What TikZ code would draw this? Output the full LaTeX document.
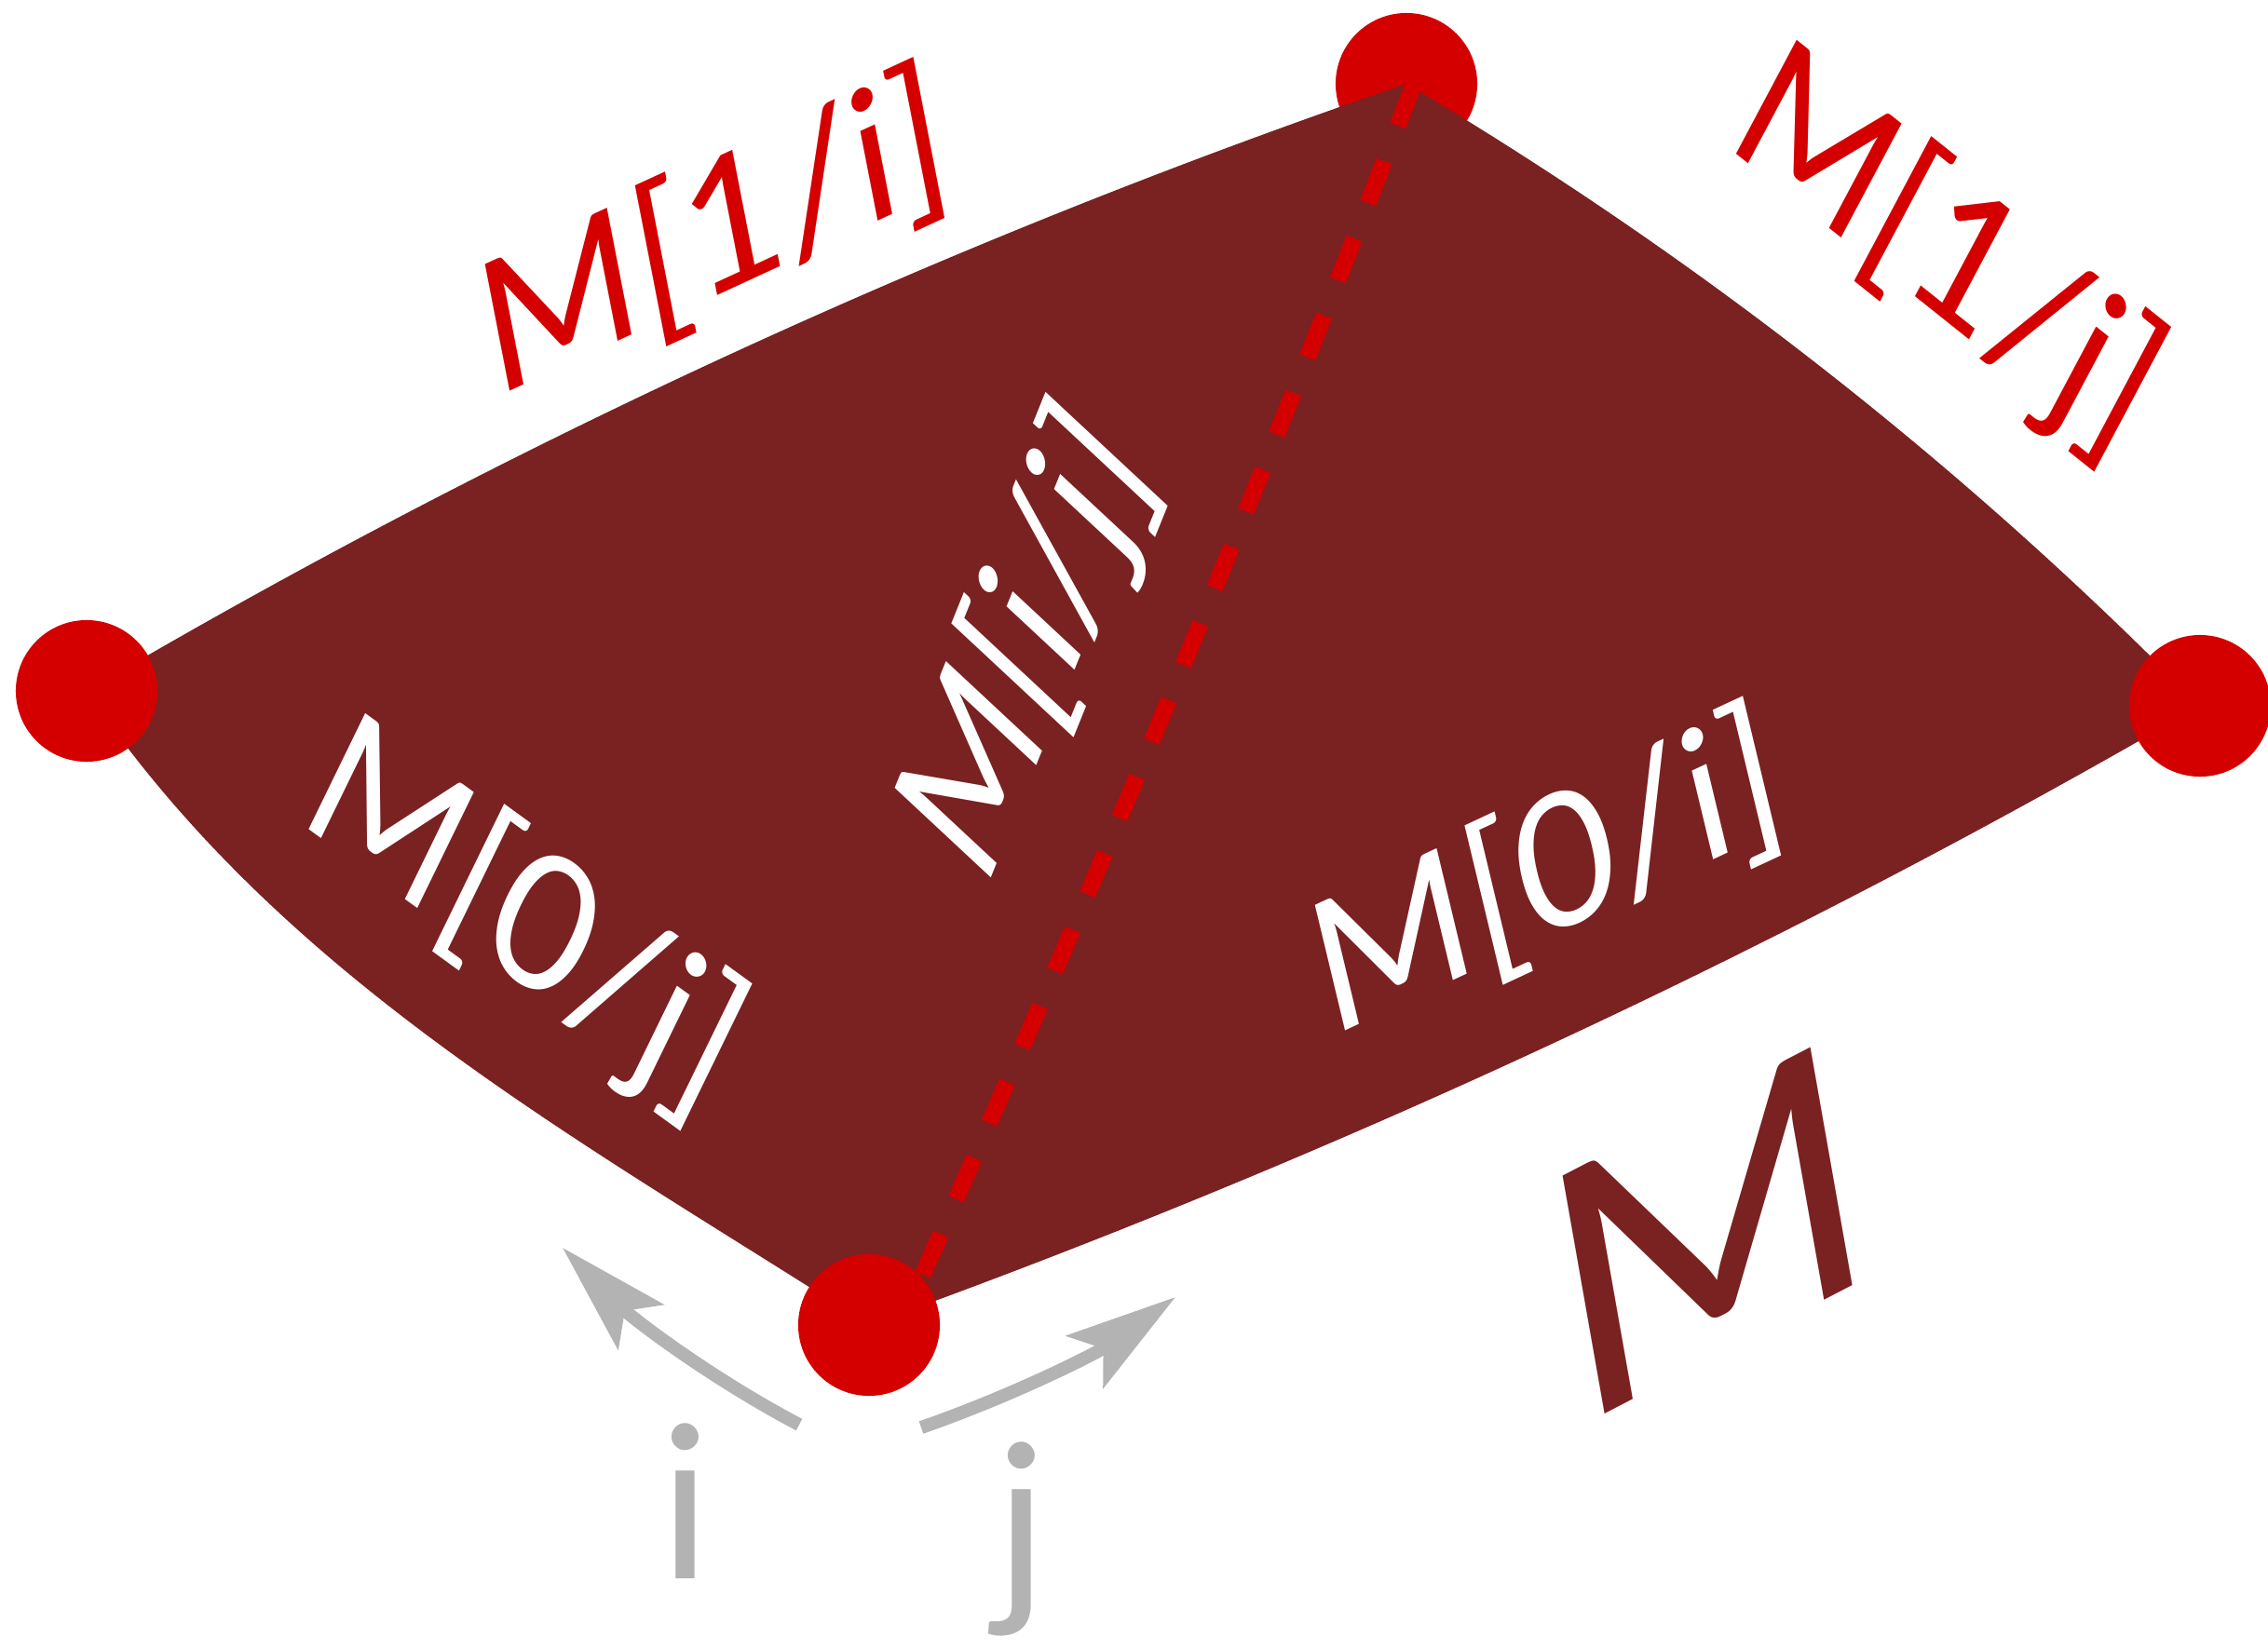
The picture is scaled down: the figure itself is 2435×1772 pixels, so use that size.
\documentclass[tikz,border=0pt]{standalone}
\usepackage{fontspec}
\setmainfont{Lato}
\usetikzlibrary{arrows.meta}
\definecolor{dotred}{RGB}{212,0,0}
\definecolor{mred}{RGB}{122,33,34}
\definecolor{agray}{RGB}{179,179,179}
\begin{document}
\begin{tikzpicture}[x=0.01cm,y=-0.01cm,
  dot/.style={circle,fill=dotred,inner sep=0pt,minimum size=1.52cm},
  lbl/.style={inner sep=0pt,anchor=base west,transform shape,font=\fontsize{55}{60}\selectfont},
  garrow/.style={draw=agray,line width=0.14cm,-{Stealth[length=1.19cm,width=0.68cm,inset=0.24cm]}},
  dashline/.style={draw=dotred,line width=0.18cm,dash pattern=on 0.48cm off 0.41cm},
  glbl/.style={text=agray,inner sep=0pt,anchor=base,font=\fontsize{65}{70}\selectfont}]
\useasboundingbox (0,0) rectangle (2435,1772);
\coordinate (Lc) at (93,742);
\coordinate (Rc) at (2362,758);
\coordinate (Bc) at (933,1423);
\node[dot] (T) at (1510,90) {};
\fill[mred] (Lc) .. controls (543,477) and (1016,259) .. (T.center)
  .. controls (1823,276) and (2107,498) .. (Rc)
  .. controls (1906,1023) and (1429,1244) .. (Bc)
  .. controls (628,1227) and (304,1054) .. (Lc) -- cycle;
\coordinate (dT) at (1518,90);
\coordinate (dB) at (968,1420);
\draw[dashline] (dT) .. controls (1347,538) and (1163,982) .. (dB);
\node[dot] (L) at (Lc) {};
\node[dot] (R) at (Rc) {};
\node[dot] (B) at (Bc) {};
% gray arrows
\coordinate (ti) at (858,1530);
\coordinate (hi) at (604,1340);
\coordinate (tj) at (989,1533);
\coordinate (hj) at (1262,1393);
\draw[garrow] (ti) .. controls (763,1480) and (679,1416) .. (hi);
\draw[garrow] (tj) .. controls (1087,1499) and (1178,1453) .. (hj);
\node[glbl] (gi) at (736,1695) {i};
\node[glbl] (gj) at (1097,1715) {j};
% labels
\node[lbl,text=dotred,cm={0.9078,0.4195,-0.1908,0.9816,(531,428)}] (l1) at (0,0) {M[1/i]};
\node[lbl,text=dotred,cm={0.7815,-0.6239,0.4695,0.8829,(1850,154)}] (l2) at (0,0) {M[1/j]};
\node[lbl,text=white,cm={0.8090,-0.5878,0.4384,0.8988,(317,880)}] (l3) at (0,0) {M[0/j]};
\node[lbl,text=white,font=\fontsize{56}{60}\selectfont,cm={0.3746,0.9272,-0.7314,0.6820,(1057,960)}] (l4) at (0,0) {M[i/j]};
\node[lbl,text=white,cm={0.9063,0.4226,-0.2334,0.9724,(1428,1115)}] (l5) at (0,0) {M[0/i]};
\node[lbl,text=mred,font=\fontsize{103}{108}\selectfont,cm={0.985,0.511,-0.1736,0.9848,(1690,1536)}] (bigM) at (0,0) {M};
\end{tikzpicture}
\end{document}
